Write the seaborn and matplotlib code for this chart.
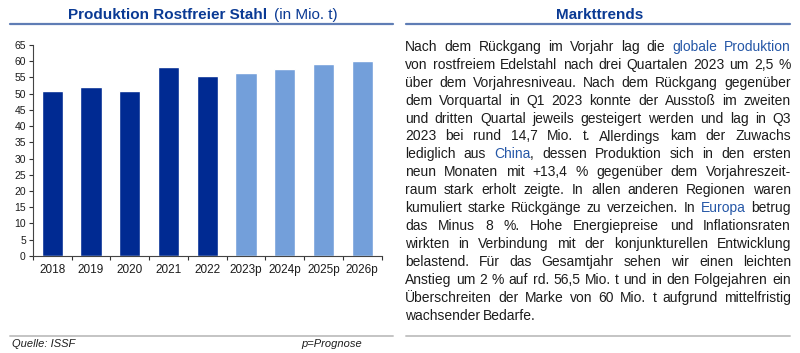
import re
import pandas as pd
import matplotlib
matplotlib.use('Agg')
import matplotlib.pyplot as plt
from matplotlib.lines import Line2D
from matplotlib.ticker import FixedLocator
import seaborn as sns

# Data
years = ['2018', '2019', '2020', '2021', '2022', '2023p', '2024p', '2025p', '2026p']
production = [50.9, 52.2, 50.9, 58.3, 55.5, 56.5, 57.5, 59.1, 60.0]
status = ['Ist', 'Ist', 'Ist', 'Ist', 'Ist', 'Prognose', 'Prognose', 'Prognose', 'Prognose']

y_ticks = list(range(0, 70, 5))

# Text panel, {...} marks the blue highlighted words
trend_lines = [
    "Nach dem Rückgang im Vorjahr lag die {globale} {Produktion}",
    "von rostfreiem Edelstahl nach drei Quartalen 2023 um 2,5 %",
    "über dem Vorjahresniveau. Nach dem Rückgang gegenüber",
    "dem Vorquartal in Q1 2023 konnte der Ausstoß im zweiten",
    "und dritten Quartal jeweils gesteigert werden und lag in Q3",
    "2023 bei rund 14,7 Mio. t. Allerdings kam der Zuwachs",
    "lediglich aus {China}, dessen Produktion sich in den ersten",
    "neun Monaten mit +13,4 % gegenüber dem Vorjahreszeit-",
    "raum stark erholt zeigte. In allen anderen Regionen waren",
    "kumuliert starke Rückgänge zu verzeichen. In {Europa} betrug",
    "das Minus 8 %. Hohe Energiepreise und Inflationsraten",
    "wirkten in Verbindung mit der konjunkturellen Entwicklung",
    "belastend. Für das Gesamtjahr sehen wir einen leichten",
    "Anstieg um 2 % auf rd. 56,5 Mio. t und in den Folgejahren ein",
    "Überschreiten der Marke von 60 Mio. t aufgrund mittelfristig",
    "wachsender Bedarfe.",
]

df = pd.DataFrame({'Jahr': years, 'Produktion': production, 'Status': status})

sns.set_theme(style='white')
plt.rcParams['font.family'] = ['Liberation Sans', 'DejaVu Sans']

dark_blue = '#002A92'
light_blue = '#739FDA'
title_blue = '#0A3A94'
rule_blue = '#5F7DB5'
text_col = '#1C1C1C'
hi_blue = '#2557A7'

fig = plt.figure(figsize=(8, 3.53), dpi=100)
ax = fig.add_axes([0.041, 0.275, 0.436, 0.5975])

sns.barplot(data=df, x='Jahr', y='Produktion', hue='Status',
            palette={'Ist': dark_blue, 'Prognose': light_blue},
            width=0.55, dodge=False, legend=False, ax=ax, saturation=1)

ax.set_xlim(-0.5, len(years) - 0.5)
ax.set_ylim(0, 65)
ax.set_yticks(y_ticks)
ax.set_xlabel('')
ax.set_ylabel('')
ax.xaxis.set_minor_locator(FixedLocator([i - 0.5 for i in range(len(years) + 1)]))
ax.tick_params(axis='x', which='major', length=0, pad=6, labelsize=8.5, labelcolor=text_col)
ax.tick_params(axis='x', which='minor', length=3, width=0.8, color='#333333', direction='out', bottom=True)
ax.tick_params(axis='y', length=3, width=0.8, color='#333333', direction='out', left=True,
               pad=2, labelsize=7.5, labelcolor=text_col)
for side in ['top', 'right']:
    ax.spines[side].set_visible(False)
for side in ['left', 'bottom']:
    ax.spines[side].set_color('#444444')
    ax.spines[side].set_linewidth(0.8)
ax.grid(False)

# Headings and rules
fig.text(0.334, 0.957, 'Produktion Rostfreier Stahl', ha='right', va='center',
         fontsize=11, fontweight='bold', color=title_blue)
fig.text(0.343, 0.957, '(in Mio. t)', ha='left', va='center', fontsize=11, color=title_blue)
fig.text(0.749, 0.957, 'Markttrends', ha='center', va='center',
         fontsize=11, fontweight='bold', color=title_blue)

for x0, x1 in [(0.0125, 0.491), (0.508, 0.988)]:
    fig.add_artist(Line2D([x0, x1], [0.931, 0.931], color=rule_blue, lw=1.6))
    fig.add_artist(Line2D([x0, x1], [0.048, 0.048], color='#C4C4C4', lw=1.4))

fig.text(0.015, 0.025, 'Quelle: ISSF', ha='left', va='center', fontsize=8,
         style='italic', color=text_col)
fig.text(0.453, 0.025, 'p=Prognose', ha='right', va='center', fontsize=8,
         style='italic', color=text_col)

# Justified text block
left_px, right_px = 405, 791
top_px, step_px = 47, 17.9
W, H = 800, 353
renderer = fig.canvas.get_renderer()

for i, line in enumerate(trend_lines):
    y = 1 - (top_px + i * step_px) / H
    placed = []
    for w in line.split(' '):
        parts = [p for p in re.split(r'(\{[^}]*\})', w) if p]
        pieces = []
        for p in parts:
            col = hi_blue if p.startswith('{') else text_col
            pieces.append(fig.text(0, y, p.strip('{}'), fontsize=10, color=col,
                                   ha='left', va='center'))
        placed.append(pieces)
    widths = [[t.get_window_extent(renderer).width for t in pieces] for pieces in placed]
    total = sum(sum(ws) for ws in widths)
    if i == len(trend_lines) - 1:
        gap = 2.8
    else:
        gap = (right_px - left_px - total) / (len(placed) - 1)
    x = left_px
    for pieces, ws in zip(placed, widths):
        for t, wd in zip(pieces, ws):
            t.set_x(x / W)
            x += wd
        x += gap

fig.savefig('out.png', dpi=100)
